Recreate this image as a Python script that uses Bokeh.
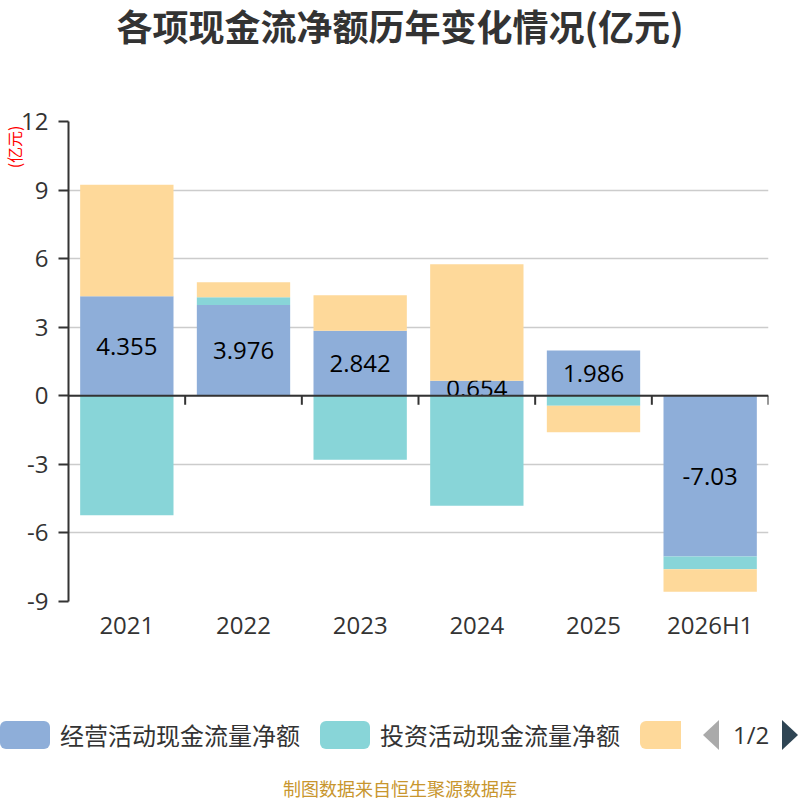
from bokeh.plotting import figure
from bokeh.layouts import column
from bokeh.models import Range1d, FixedTicker, Span, Title, Div
from bokeh.embed import file_html
from bokeh.resources import INLINE
from bokeh.core.properties import value

# ---- data ----
years = ["2021", "2022", "2023", "2024", "2025", "2026H1"]
operating = [4.355, 3.976, 2.842, 0.654, 1.986, -7.03]
investing = [-5.23, 0.34, -2.80, -4.81, -0.44, -0.56]
financing = [4.875, 0.65, 1.56, 5.10, -1.16, -0.98]
series_names = ["经营活动现金流量净额", "投资活动现金流量净额", "筹资活动现金流量净额"]
y_ticks = [-9, -6, -3, 0, 3, 6, 9, 12]
title_text = "各项现金流净额历年变化情况(亿元)"
unit_text = "(亿元)"
source_text = "制图数据来自恒生聚源数据库"
page_text = "1/2"

colors = ["#8eaed9", "#88d5d8", "#fed99a"]
FONT = "Noto Sans CJK SC"
NUMFONT = "Open Sans"

W = 800
H_TOP = 50
H_MAIN = 610
H_BOT = 140

xs = [i + 0.5 for i in range(len(years))]

# stacking positive / negative separately
pos_base = [0.0] * len(years)
neg_base = [0.0] * len(years)
stacks = []
for vals in (operating, investing, financing):
    bottoms, tops = [], []
    for i, v in enumerate(vals):
        if v >= 0:
            b, t = pos_base[i], pos_base[i] + v
            pos_base[i] = t
        else:
            b, t = neg_base[i] + v, neg_base[i]
            neg_base[i] = b
        bottoms.append(b)
        tops.append(t)
    stacks.append((bottoms, tops))

# ---- title ----
top_div = Div(text=(f'<div style="width:{W}px;height:{H_TOP}px;display:flex;align-items:center;'
                    f'justify-content:center;font-family:\'{FONT}\';font-weight:bold;font-size:36px;'
                    f'line-height:44px;color:#333333;white-space:nowrap;">{title_text}</div>'),
              width=W, height=H_TOP, margin=0)

# ---- main chart ----
p = figure(width=W, height=H_MAIN, output_backend="svg", toolbar_location=None,
           x_range=Range1d(0, len(years)), y_range=Range1d(min(y_ticks), max(y_ticks)),
           min_border_left=68, min_border_right=32, min_border_top=71, min_border_bottom=59)
p.outline_line_color = None
p.background_fill_color = "white"
p.border_fill_color = "white"

p.add_layout(Title(text=unit_text, align="right", vertical_align="top", text_font=FONT,
                   text_font_size="16px", text_font_style="normal", text_color="red",
                   standoff=-19, offset=4), "left")

p.yaxis.ticker = FixedTicker(ticks=y_ticks)
p.yaxis.major_label_overrides = {t: str(t) for t in y_ticks}
p.yaxis.axis_line_color = "#333333"
p.yaxis.axis_line_width = 2
p.yaxis.major_tick_line_color = "#333333"
p.yaxis.major_tick_line_width = 2
p.yaxis.major_tick_out = 10
p.yaxis.major_tick_in = 0
p.yaxis.minor_tick_line_color = None
p.yaxis.major_label_standoff = 10
p.yaxis.major_label_text_font = NUMFONT
p.yaxis.major_label_text_font_size = "24px"
p.yaxis.major_label_text_color = "#333333"

p.xaxis.ticker = FixedTicker(ticks=xs)
p.xaxis.major_label_overrides = {x: y for x, y in zip(xs, years)}
p.xaxis.axis_line_color = None
p.xaxis.major_tick_line_color = None
p.xaxis.major_tick_out = 0
p.xaxis.major_tick_in = 0
p.xaxis.minor_tick_line_color = None
p.xaxis.major_label_standoff = 6
p.xaxis.major_label_text_font = NUMFONT
p.xaxis.major_label_text_font_size = "24px"
p.xaxis.major_label_text_color = "#333333"

p.xgrid.grid_line_color = None
p.ygrid.grid_line_color = "#cccccc"
p.ygrid.grid_line_width = 1.5

BW = 0.8
b0, t0 = stacks[0]
p.vbar(x=xs, bottom=b0, top=t0, width=BW, fill_color=colors[0], line_color=None)
p.text(x=xs, y=[v / 2 for v in operating], text=[f"{v:g}" for v in operating],
       text_align="center", text_baseline="middle", text_font=value(NUMFONT),
       text_font_size="24px", text_color="black")
b1, t1 = stacks[1]
p.vbar(x=xs, bottom=b1, top=t1, width=BW, fill_color=colors[1], line_color=None)
b2, t2 = stacks[2]
p.vbar(x=xs, bottom=b2, top=t2, width=BW, fill_color=colors[2], line_color=None)

# zero axis line with ticks at category boundaries
p.add_layout(Span(location=0, dimension="width", line_color="#333333", line_width=2, level="overlay"))
bounds = list(range(1, len(years) + 1))
tick_len = 9 / (480 / 21)
p.segment(x0=bounds, x1=bounds, y0=[0] * len(bounds), y1=[-tick_len] * len(bounds),
          line_color="#333333", line_width=2)

# ---- legend / pager / source strip ----
def box(left, color, width=50, radius="6px"):
    return (f'<div style="position:absolute;left:{left}px;top:61px;width:{width}px;height:28px;'
            f'background:{color};border-radius:{radius};"></div>')

def label(left, text, font=FONT):
    return (f'<div style="position:absolute;left:{left}px;top:61px;height:28px;line-height:28px;'
            f'font-family:\'{font}\';font-size:24px;color:#333333;white-space:nowrap;">{text}</div>')

parts = [
    box(0, colors[0]), label(60, series_names[0]),
    box(320, colors[1]), label(380, series_names[1]),
    box(640, colors[2], width=41, radius="6px 0 0 6px"),
    ('<div style="position:absolute;left:703px;top:60px;width:0;height:0;'
     'border-top:15px solid transparent;border-bottom:15px solid transparent;'
     'border-right:16px solid #aaaaaa;"></div>'),
    label(733, page_text, NUMFONT),
    ('<div style="position:absolute;left:782px;top:60px;width:0;height:0;'
     'border-top:15px solid transparent;border-bottom:15px solid transparent;'
     'border-left:16px solid #2f4554;"></div>'),
    (f'<div style="position:absolute;left:0;top:117px;width:{W}px;height:22px;line-height:22px;'
     f'text-align:center;font-family:\'{FONT}\';font-size:18px;color:#c8962e;">{source_text}</div>'),
]
bot_div = Div(text=(f'<div style="position:relative;width:{W}px;height:{H_BOT}px;overflow:hidden;">'
                    + "".join(parts) + '</div>'),
              width=W, height=H_BOT, margin=0)

layout = column(top_div, p, bot_div, spacing=0)
open("out.html", "w").write(file_html(layout, INLINE))
